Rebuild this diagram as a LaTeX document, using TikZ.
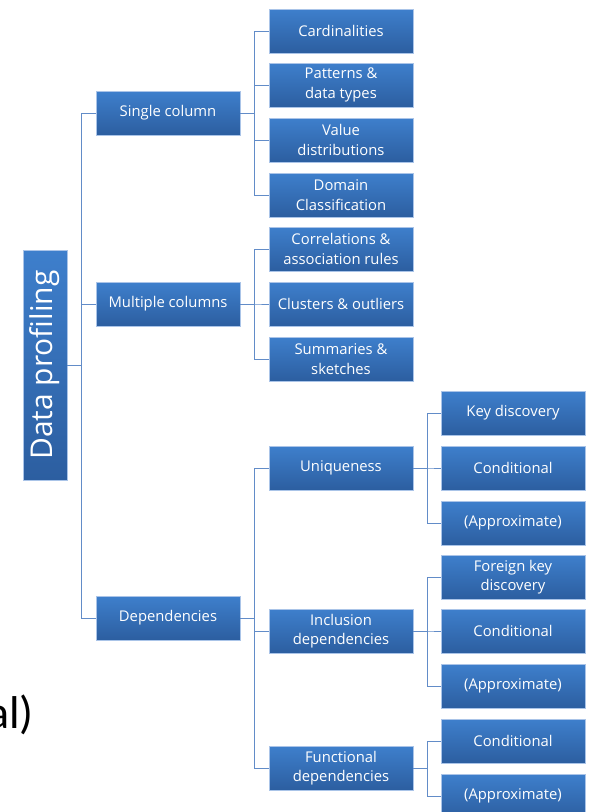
\documentclass[tikz,border=0pt]{standalone}
\usepackage{fontspec}
\setmainfont{Carlito}
\newfontfamily\boxfont{Open Sans}
\usetikzlibrary{positioning, calc}

\definecolor{boxtop}{RGB}{62,127,204}
\definecolor{boxbot}{RGB}{44,94,160}
\definecolor{boxline}{RGB}{170,196,232}
\definecolor{linkcol}{RGB}{98,140,200}

\tikzset{
  pbox/.style={rectangle, minimum width=144pt, minimum height=44pt, inner sep=1pt,
    top color=boxtop, bottom color=boxbot, draw=boxline, line width=0.6pt,
    text=white, align=center, font=\boxfont\fontsize{14.8}{19.5}\selectfont},
  link/.style={draw=linkcol, line width=1pt}
}

\begin{document}
\begin{tikzpicture}[x=1pt, y=-1pt]
\useasboundingbox (0,0) rectangle (589,812);

\node[pbox, rotate=90, minimum width=230pt, minimum height=44pt, font=\boxfont\fontsize{30}{36}\selectfont] (dp) at (45,365) {Data profiling};

\node[pbox] (single) at (168,113) {Single column};
\node[pbox] (multi) at (168,304) {Multiple columns};
\node[pbox] (deps) at (168,618) {Dependencies};

\node[pbox] (card) at (341,31) {Cardinalities};
\node[pbox] (pat) at (341,85) {Patterns \&\\data types};
\node[pbox] (val) at (341,140) {Value\\distributions};
\node[pbox] (dom) at (341,195) {Domain\\Classification};
\node[pbox] (corr) at (341,249) {Correlations \&\\association rules};
\node[pbox] (clus) at (341,304) {Clusters \& outliers};
\node[pbox] (summ) at (341,359) {Summaries \&\\sketches};

\node[pbox] (uniq) at (341,468) {Uniqueness};
\node[pbox] (incl) at (341,631) {Inclusion\\dependencies};
\node[pbox] (func) at (341,768) {Functional\\dependencies};

\node[pbox] (key) at (513,413) {Key discovery};
\node[pbox] (cond1) at (513,468) {Conditional};
\node[pbox] (appr1) at (513,523) {(Approximate)};
\node[pbox] (fk) at (513,577) {Foreign key\\discovery};
\node[pbox] (cond2) at (513,631) {Conditional};
\node[pbox] (appr2) at (513,686) {(Approximate)};
\node[pbox] (cond3) at (513,741) {Conditional};
\node[pbox] (appr3) at (513,796) {(Approximate)};

% tree connectors
\foreach \n in {single,multi,deps}
  \draw[link] (dp.south) -- ++(14,0) |- (\n.west);
\foreach \n in {card,pat,val,dom}
  \draw[link] (single.east) -- ++(14,0) |- (\n.west);
\foreach \n in {corr,clus,summ}
  \draw[link] (multi.east) -- ++(14,0) |- (\n.west);
\foreach \n in {uniq,incl,func}
  \draw[link] (deps.east) -- ++(14,0) |- (\n.west);
\foreach \n in {key,cond1,appr1}
  \draw[link] (uniq.east) -- ++(14,0) |- (\n.west);
\foreach \n in {fk,cond2,appr2}
  \draw[link] (incl.east) -- ++(14,0) |- (\n.west);
\foreach \n in {cond3,appr3}
  \draw[link] (func.east) -- ++(14,0) |- (\n.west);

\node[anchor=base east, inner sep=0pt, font=\fontsize{46}{50}\selectfont] (rest) at (34,728) {al)};
\end{tikzpicture}
\end{document}
